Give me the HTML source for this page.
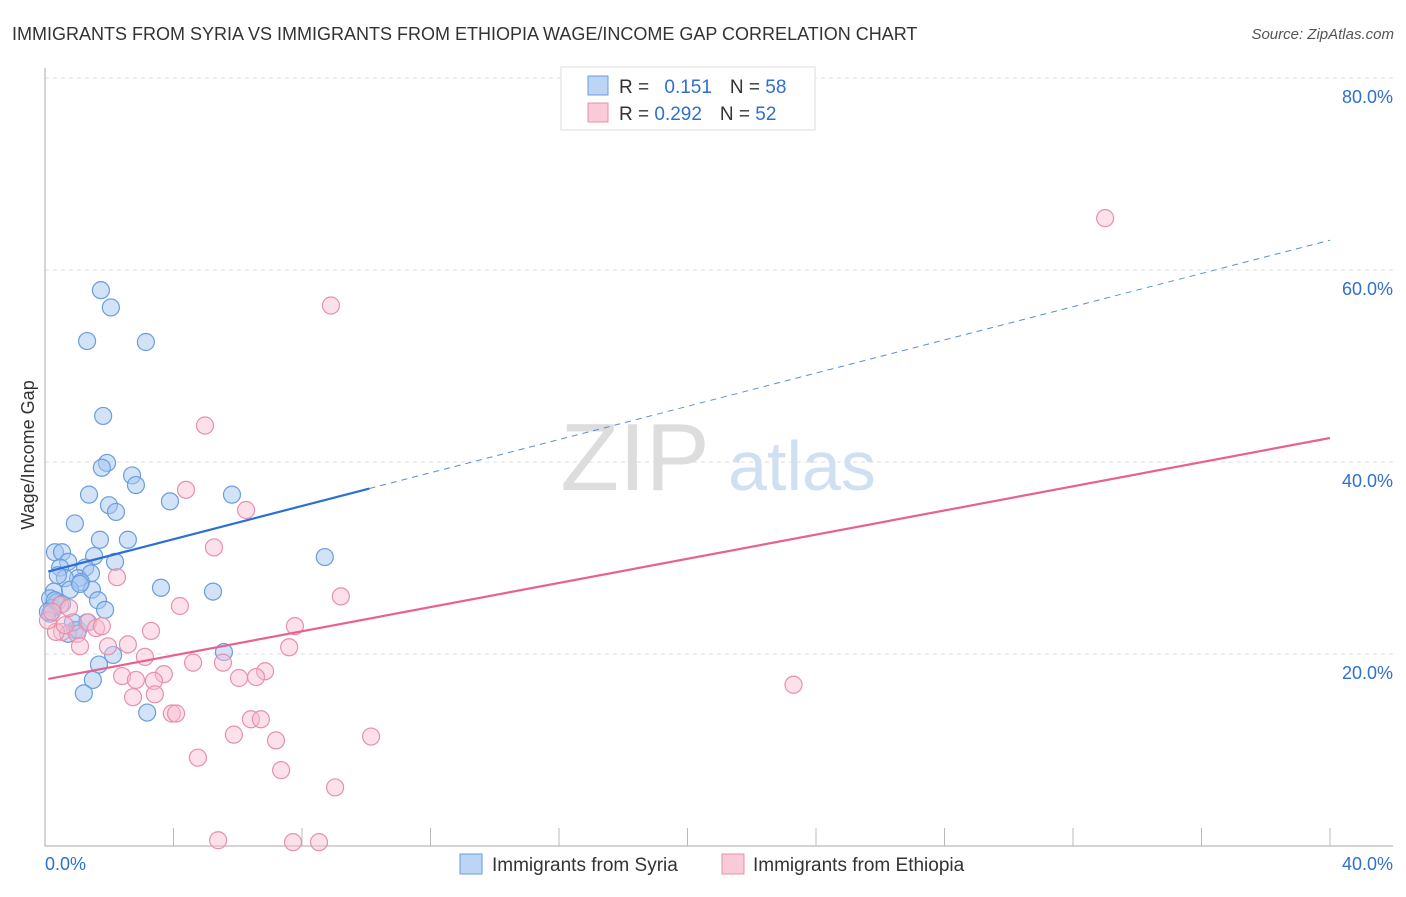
<!DOCTYPE html>
<html><head><meta charset="utf-8"><style>
body{margin:0;background:#fff;font-family:"Liberation Sans",sans-serif}
svg text{font-family:"Liberation Sans",sans-serif}
</style></head><body>
<svg id="c" width="1406" height="892" viewBox="0 0 1406 892">
<text x="12" y="40" font-size="18" fill="#333">IMMIGRANTS FROM SYRIA VS IMMIGRANTS FROM ETHIOPIA WAGE/INCOME GAP CORRELATION CHART</text>
<text x="1394" y="39" font-size="15" fill="#555" font-style="italic" text-anchor="end">Source: ZipAtlas.com</text>
<g>
<text x="635" y="490" font-size="96" fill="#ddd" font-family="Liberation Serif,serif" text-anchor="middle">ZIP</text>
<text x="802" y="490" font-size="70" fill="#cfe0f3" text-anchor="middle">atlas</text>
</g>
<g id="grid"></g>
<g id="axes"></g>
<g id="pts"></g>
<g id="lines"></g>
<g>
<rect x="561" y="67" width="254" height="63" fill="#fff" stroke="#ddd"/>
<rect x="588" y="76" width="20" height="19" fill="#bcd5f5" stroke="#6a9de0"/>
<rect x="588" y="103" width="20" height="19" fill="#f9cad8" stroke="#e890ab"/>
<text x="619" y="93" font-size="19" fill="#333">R = <tspan fill="#2f6fd0" dx="10">0.151</tspan><tspan fill="#333" dx="18">N = </tspan><tspan fill="#2f6fd0">58</tspan></text>
<text x="619" y="120" font-size="19" fill="#333">R = <tspan fill="#2f6fd0">0.292</tspan><tspan fill="#333" dx="18">N = </tspan><tspan fill="#2f6fd0">52</tspan></text>
</g>
<text x="34" y="455" font-size="18" fill="#333" text-anchor="middle" transform="rotate(-90 34 455)">Wage/Income Gap</text>
<text x="45" y="870" font-size="18" fill="#2f6fd0">0.0%</text>
<text x="1393" y="870" font-size="18" fill="#2f6fd0" text-anchor="end">40.0%</text>
<g>
<rect x="460" y="854" width="22" height="20" fill="#bcd5f5" stroke="#6a9de0"/>
<text x="492" y="871" font-size="19" fill="#333">Immigrants from Syria</text>
<rect x="722" y="854" width="22" height="20" fill="#f9cad8" stroke="#e890ab"/>
<text x="753" y="871" font-size="19" fill="#333">Immigrants from Ethiopia</text>
</g>
</svg>
<script>
const yTicks=[20,40,60,80];
const yTickLabels=["20.0%","40.0%","60.0%","80.0%"];
const xTicks=[4,8,12,16,20,24,28,32,36,40];
const syriaX=[1.74,2.05,1.31,3.14,1.81,1.93,1.77,2.71,2.83,3.89,1.37,5.82,1.99,2.21,0.93,1.71,2.58,0.31,0.53,1.53,2.18,0.72,0.47,1.25,1.03,1.43,0.62,1.12,0.28,0.78,1.46,3.61,5.23,8.71,1.65,0.16,0.37,0.22,0.16,0.93,0.72,1.03,1.31,2.12,5.57,1.68,1.49,1.21,3.18,0.31,0.09,0.53,0.87,1.09,0.40,1.87];
const syriaY=[57.9,56.1,52.6,52.5,44.8,39.9,39.4,38.6,37.6,35.9,36.6,36.6,35.5,34.8,33.6,31.9,31.9,30.6,30.6,30.2,29.6,29.6,29.0,29.0,27.9,28.4,27.9,27.5,26.5,26.7,26.7,26.9,26.5,30.1,25.6,25.8,25.4,24.8,24.2,22.5,22.1,22.5,23.3,19.9,20.2,18.9,17.3,15.9,13.9,25.6,24.4,25.2,23.3,27.3,28.2,24.6];
const ethX=[33.0,8.90,4.98,4.39,6.26,5.26,2.24,9.21,4.20,0.47,0.75,7.78,3.30,1.34,1.59,1.77,0.53,1.00,2.58,1.09,1.96,7.60,3.11,4.61,5.54,6.85,3.70,3.39,2.40,2.83,6.04,6.57,2.74,3.42,3.95,4.08,6.41,6.72,5.88,7.19,10.15,4.76,7.35,9.03,5.39,7.72,8.53,23.3,0.34,0.09,0.22,0.62];
const ethY=[65.4,56.3,43.8,37.1,35.0,31.1,28.0,26.0,25.0,25.1,24.8,22.9,22.4,23.3,22.7,22.9,22.3,22.1,21.0,20.8,20.8,20.7,19.7,19.1,19.1,18.2,17.9,17.2,17.7,17.3,17.5,17.6,15.5,15.8,13.8,13.8,13.2,13.2,11.6,11.0,11.4,9.2,7.9,6.1,0.6,0.4,0.4,16.8,22.3,23.5,24.4,23.0];
const syriaTrend=[28.5,63.1];
const syriaSolidEnd=10.1;
const ethTrend=[17.4,42.5];
const NS="http://www.w3.org/2000/svg";
const X=v=>45+v*32.125, Y=v=>846-v*9.6;
function mk(t,a,p){const e=document.createElementNS(NS,t);for(const k in a)e.setAttribute(k,a[k]);p.appendChild(e);return e;}
const grid=document.getElementById('grid'),axes=document.getElementById('axes'),pts=document.getElementById('pts'),lines=document.getElementById('lines');
yTicks.forEach((v,i)=>{
 const l=mk('line',{x1:45,x2:1393,y1:Y(v),y2:Y(v),stroke:'#ddd','stroke-dasharray':'4,4'},grid);
 
 
 const t=mk('text',{x:1393,y:Y(v)+25,'font-size':18,fill:'#2f6fd0','text-anchor':'end'},grid);
 t.textContent=yTickLabels[i];
 
 
});
const ax=mk('path',{d:'M45 68V846H1393',stroke:'#aaa',fill:'none'},axes);


xTicks.forEach(v=>{
 const l=mk('line',{x1:X(v),x2:X(v),y1:828,y2:846,stroke:'#bbb'},axes);
 
 
});
function dots(xs,ys,fill,stroke,name){xs.forEach((x,i)=>{
 const c=mk('circle',{cx:X(x),cy:Y(ys[i]),r:8.5,fill:fill,stroke:stroke,'stroke-width':1.2},pts);
 
 
});}
dots(syriaX,syriaY,'rgba(165,198,240,0.5)','#6a9de0','syria-point');
dots(ethX,ethY,'rgba(248,188,208,0.45)','#e890ab','ethiopia-point');
const sy=x=>syriaTrend[0]+(syriaTrend[1]-syriaTrend[0])*x/40;
const l1=mk('line',{x1:X(0.1),y1:Y(sy(0.1)),x2:X(syriaSolidEnd),y2:Y(sy(syriaSolidEnd)),stroke:'#2a6fd6','stroke-width':2.2},lines);


const l2=mk('line',{x1:X(syriaSolidEnd),y1:Y(sy(syriaSolidEnd)),x2:X(40),y2:Y(sy(40)),stroke:'#5a8fd8','stroke-width':1,'stroke-dasharray':'6,5'},lines);


const l3=mk('line',{x1:X(0.1),y1:Y(ethTrend[0]),x2:X(40),y2:Y(ethTrend[1]),stroke:'#e8628f','stroke-width':2.2},lines);


</script>
</body></html>
